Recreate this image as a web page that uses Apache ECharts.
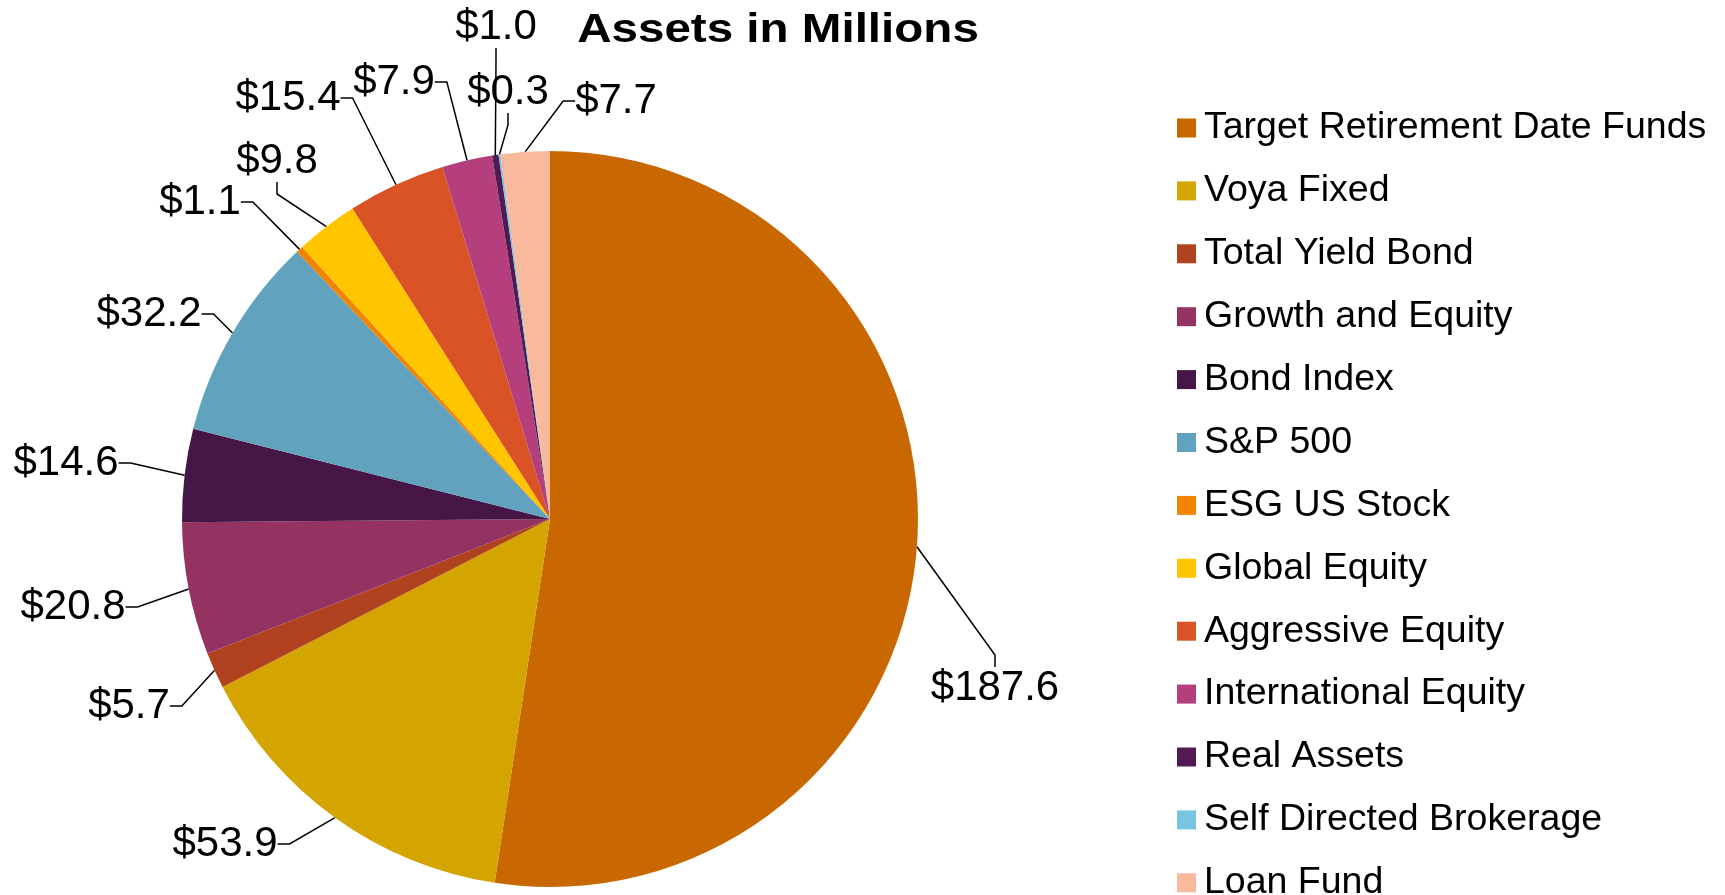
<!DOCTYPE html>
<html lang="en">
<head>
  <meta charset="UTF-8">
  <title>Assets in Millions</title>
  <script src="https://cdn.jsdelivr.net/npm/echarts@6/dist/echarts.min.js"></script>
  <style>
    html, body { margin: 0; padding: 0; background: #fff; }
    #chart { width: 1725px; height: 895px; }
  </style>
</head>
<body>
  <div id="chart"></div>
  <script>
    const categories = [
      'Target Retirement Date Funds', 'Voya Fixed', 'Total Yield Bond', 'Growth and Equity',
      'Bond Index', 'S&P 500', 'ESG US Stock', 'Global Equity', 'Aggressive Equity',
      'International Equity', 'Real Assets', 'Self Directed Brokerage', 'Loan Fund'
    ];
    const assets = [187.6, 53.9, 5.7, 20.8, 14.6, 32.2, 1.1, 9.8, 15.4, 7.9, 1.0, 0.3, 7.7];
    const colors = [
      '#C96800', '#D4A500', '#B0421F', '#943261', '#461646', '#61A2BE', '#F28500',
      '#FFC600', '#D95326', '#B53F7C', '#521A52', '#78C5E3', '#F8B99D'
    ];

    // where each value label sits (text centre), as moved by hand in the original
    const labelX = [995, 225, 129, 73, 66, 149, 200, 277, 288, 394, 496, 508, 616];
    const labelY = [688, 844, 706, 607, 463, 314, 202, 161, 98, 82, 27, 92, 101];

    const font = '"Liberation Sans", Arial, sans-serif';

    const chart = echarts.init(document.getElementById('chart'));
    chart.setOption({
      animation: false,
      color: colors,
      // title is drawn a bit wider than the plain font, like the original
      graphic: [{
        type: 'text',
        x: 778,
        y: 31,
        scaleX: 1.16,
        style: {
          text: 'Assets in Millions',
          font: 'bold 41px ' + font,
          fill: '#000',
          textAlign: 'center',
          textVerticalAlign: 'middle'
        }
      }],
      legend: {
        orient: 'vertical',
        left: 1177,
        top: 109,
        height: 800,
        icon: 'rect',
        itemWidth: 19,
        itemHeight: 19,
        itemGap: 24.9,
        padding: 0,
        textStyle: { fontFamily: font, fontSize: 37.5, color: '#000', padding: [0, 0, 0, 3] },
        data: categories
      },
      series: [{
        type: 'pie',
        center: [550, 519],
        radius: 368,
        startAngle: 90,
        clockwise: true,
        avoidLabelOverlap: false,
        itemStyle: { borderWidth: 0 },
        label: {
          show: true,
          position: 'outside',
          fontFamily: font,
          fontSize: 42,
          color: '#000',
          formatter: p => '$' + p.value.toFixed(1)
        },
        labelLine: {
          show: true,
          length: 10,
          length2: 12,
          lineStyle: { color: '#000', width: 1.5 }
        },
        labelLayout: p => ({
          x: labelX[p.dataIndex],
          y: labelY[p.dataIndex],
          align: 'center',
          verticalAlign: 'middle'
        }),
        emphasis: { disabled: true },
        data: categories.map((name, i) => ({ name, value: assets[i] }))
      }]
    });
  </script>
</body>
</html>
